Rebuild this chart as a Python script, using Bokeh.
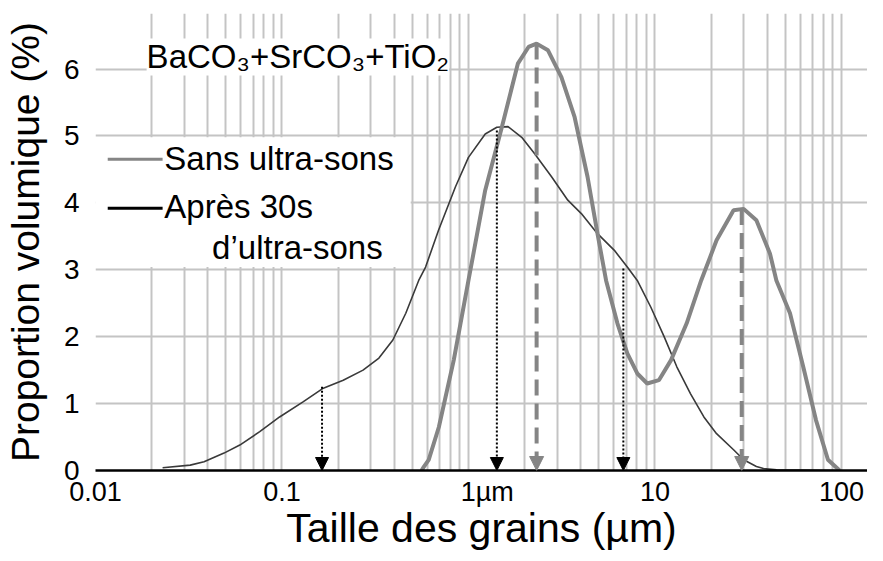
from bokeh.plotting import figure
from bokeh.models import Range1d, FixedTicker, Label, Arrow, NormalHead, ColumnDataSource
from bokeh.core.properties import value
from bokeh.embed import file_html
from bokeh.resources import INLINE

# --- data ---
# "Sans ultra-sons" (thick grey curve)
sans_x = [0.56, 0.575, 0.612, 0.694, 0.834, 1.0, 1.23, 1.51, 1.84, 2.1, 2.32, 2.67, 3.15,
          3.71, 4.35, 4.92, 5.47, 6.29, 7.11, 8.04, 9.09, 10.5, 12.2, 14.8, 17.7, 21.4,
          26.4, 29.9, 35.0, 41.4, 44.8, 53.0, 62.4, 73.1, 84.7, 97.8]
sans_y = [0.0, 0.05, 0.16, 0.65, 1.65, 2.84, 4.19, 5.13, 6.08, 6.33, 6.38, 6.28, 5.88,
          5.28, 4.39, 3.54, 2.84, 2.20, 1.75, 1.45, 1.30, 1.35, 1.65, 2.20, 2.84, 3.44,
          3.89, 3.91, 3.74, 3.24, 2.84, 2.35, 1.55, 0.75, 0.16, 0.0]
# "Après 30s d'ultra-sons" (thin dark curve)
apres_x = [0.0229, 0.0322, 0.0382, 0.0489, 0.0594, 0.0760, 0.0971, 0.1303, 0.1666, 0.2130,
           0.2721, 0.3311, 0.3932, 0.4612, 0.5410, 0.589, 0.691, 0.852, 1.0, 1.23, 1.42,
           1.63, 1.93, 2.27, 2.79, 3.41, 4.03, 4.92, 6.06, 7.11, 8.04, 9.51, 11.2, 13.1,
           15.5, 18.3, 21.4, 26.4, 29.9, 35.0, 38.2, 45.0, 100.0]
apres_y = [0.04, 0.08, 0.13, 0.26, 0.38, 0.58, 0.80, 1.03, 1.23, 1.35,
           1.50, 1.68, 1.95, 2.35, 2.84, 3.04, 3.59, 4.24, 4.68, 5.03, 5.13,
           5.14, 4.98, 4.73, 4.39, 4.04, 3.84, 3.54, 3.29, 3.04, 2.84, 2.44, 2.00, 1.55,
           1.15, 0.80, 0.55, 0.31, 0.16, 0.06, 0.03, 0.01, 0.0]

# marked sizes (arrows)
dotted_x = [0.164, 1.42, 6.77]
dotted_top = [1.25, 5.08, 3.02]
dashed_x = [2.32, 29.2]
dashed_top = [6.38, 3.91]

x_ticks = [0.01, 0.1, 1, 10, 100]
x_tick_labels = ["0.01", "0.1", "\u00a0" * 5 + "1\u00b5m", "10", "100"]
x_minor = [k * 10.0 ** d for d in range(-2, 3) for k in range(2, 10)]
y_ticks = [0, 1, 2, 3, 4, 5, 6]

title_text = "BaCO\u2083+SrCO\u2083+TiO\u2082"
legend_labels = ["Sans ultra-sons", "Apr\u00e8s 30s", "d\u2019ultra-sons"]

FONT = "Liberation Sans"
GRID = "#c4c4c4"
GREY = "#858585"
DARK = "#3a3a3a"

p = figure(width=867, height=553, x_axis_type="log",
           x_range=Range1d(0.01, 138), y_range=Range1d(0, 6.83),
           output_backend="svg", toolbar_location=None,
           min_border_left=90, min_border_right=0, min_border_top=13, min_border_bottom=82)
p.outline_line_color = None
p.background_fill_color = "white"
p.border_fill_color = "white"

# axes
p.xaxis.ticker = FixedTicker(ticks=x_ticks, minor_ticks=x_minor)
p.xaxis.major_label_overrides = dict(zip(x_ticks, x_tick_labels))
p.yaxis.ticker = FixedTicker(ticks=y_ticks)
for ax in (p.xaxis, p.yaxis):
    ax.major_tick_line_color = None
    ax.minor_tick_line_color = None
    ax.major_tick_out = 0
    ax.minor_tick_out = 0
    ax.major_tick_in = 0
    ax.minor_tick_in = 0
    ax.major_label_text_font = FONT
    ax.major_label_text_color = "black"
    ax.axis_label_text_font = FONT
    ax.axis_label_text_font_style = "normal"
    ax.axis_label_text_color = "black"
p.xaxis.axis_line_color = "black"
p.xaxis.axis_line_width = 2.5
p.xaxis.major_label_text_font_size = "27px"
p.xaxis.major_label_standoff = 6
p.xaxis.axis_label = "Taille des grains (\u00b5m)"
p.xaxis.axis_label_text_font_size = "41px"
p.xaxis.axis_label_standoff = -5
p.yaxis.axis_line_color = None
p.yaxis.major_label_text_font_size = "28px"
p.yaxis.major_label_standoff = 16
p.yaxis.axis_label = "Proportion volumique (%)"
p.yaxis.axis_label_text_font_size = "39px"
p.yaxis.axis_label_standoff = 14

# grid
p.xgrid.grid_line_color = GRID
p.xgrid.grid_line_width = 2
p.xgrid.minor_grid_line_color = GRID
p.xgrid.minor_grid_line_width = 2
p.ygrid.grid_line_color = GRID
p.ygrid.grid_line_width = 2

# legend background box
p.quad(left=0.009, right=0.49, bottom=3.04, top=4.98, fill_color="white", line_color=None)

# curves
p.line(apres_x, apres_y, line_color=DARK, line_width=1.6)
p.line(sans_x, sans_y, line_color=GREY, line_width=4)

# arrows
dsrc = ColumnDataSource(dict(x0=dotted_x, y0=dotted_top, x1=dotted_x, y1=[0] * len(dotted_x)))
p.add_layout(Arrow(x_start="x0", y_start="y0", x_end="x1", y_end="y1", source=dsrc,
                   line_color="black", line_width=2, line_dash="2 2",
                   end=NormalHead(size=13, fill_color="black", line_color="black")))
gsrc = ColumnDataSource(dict(x0=dashed_x, y0=dashed_top, x1=dashed_x, y1=[0] * len(dashed_x)))
p.add_layout(Arrow(x_start="x0", y_start="y0", x_end="x1", y_end="y1", source=gsrc,
                   line_color=GREY, line_width=4, line_dash="16 8",
                   end=NormalHead(size=14, fill_color=GREY, line_color=GREY)))

# title
p.add_layout(Label(x=0.0188, y=6.18, text=title_text, text_font=FONT, text_font_size="33px",
                   text_baseline="middle", text_color="black",
                   background_fill_color="white"))

# custom legend
p.line([0.01163, 0.0229], [4.65, 4.65], line_color=GREY, line_width=3)
p.line([0.01163, 0.0229], [3.92, 3.92], line_color="black", line_width=3)
p.text(x=[0.0234, 0.0234, 0.0422], y=[4.67, 3.95, 3.33], text=legend_labels,
       text_font=value(FONT), text_font_size=value("33px"), text_color="black",
       text_baseline="middle", text_align="left")

open("out.html", "w").write(file_html(p, INLINE))
